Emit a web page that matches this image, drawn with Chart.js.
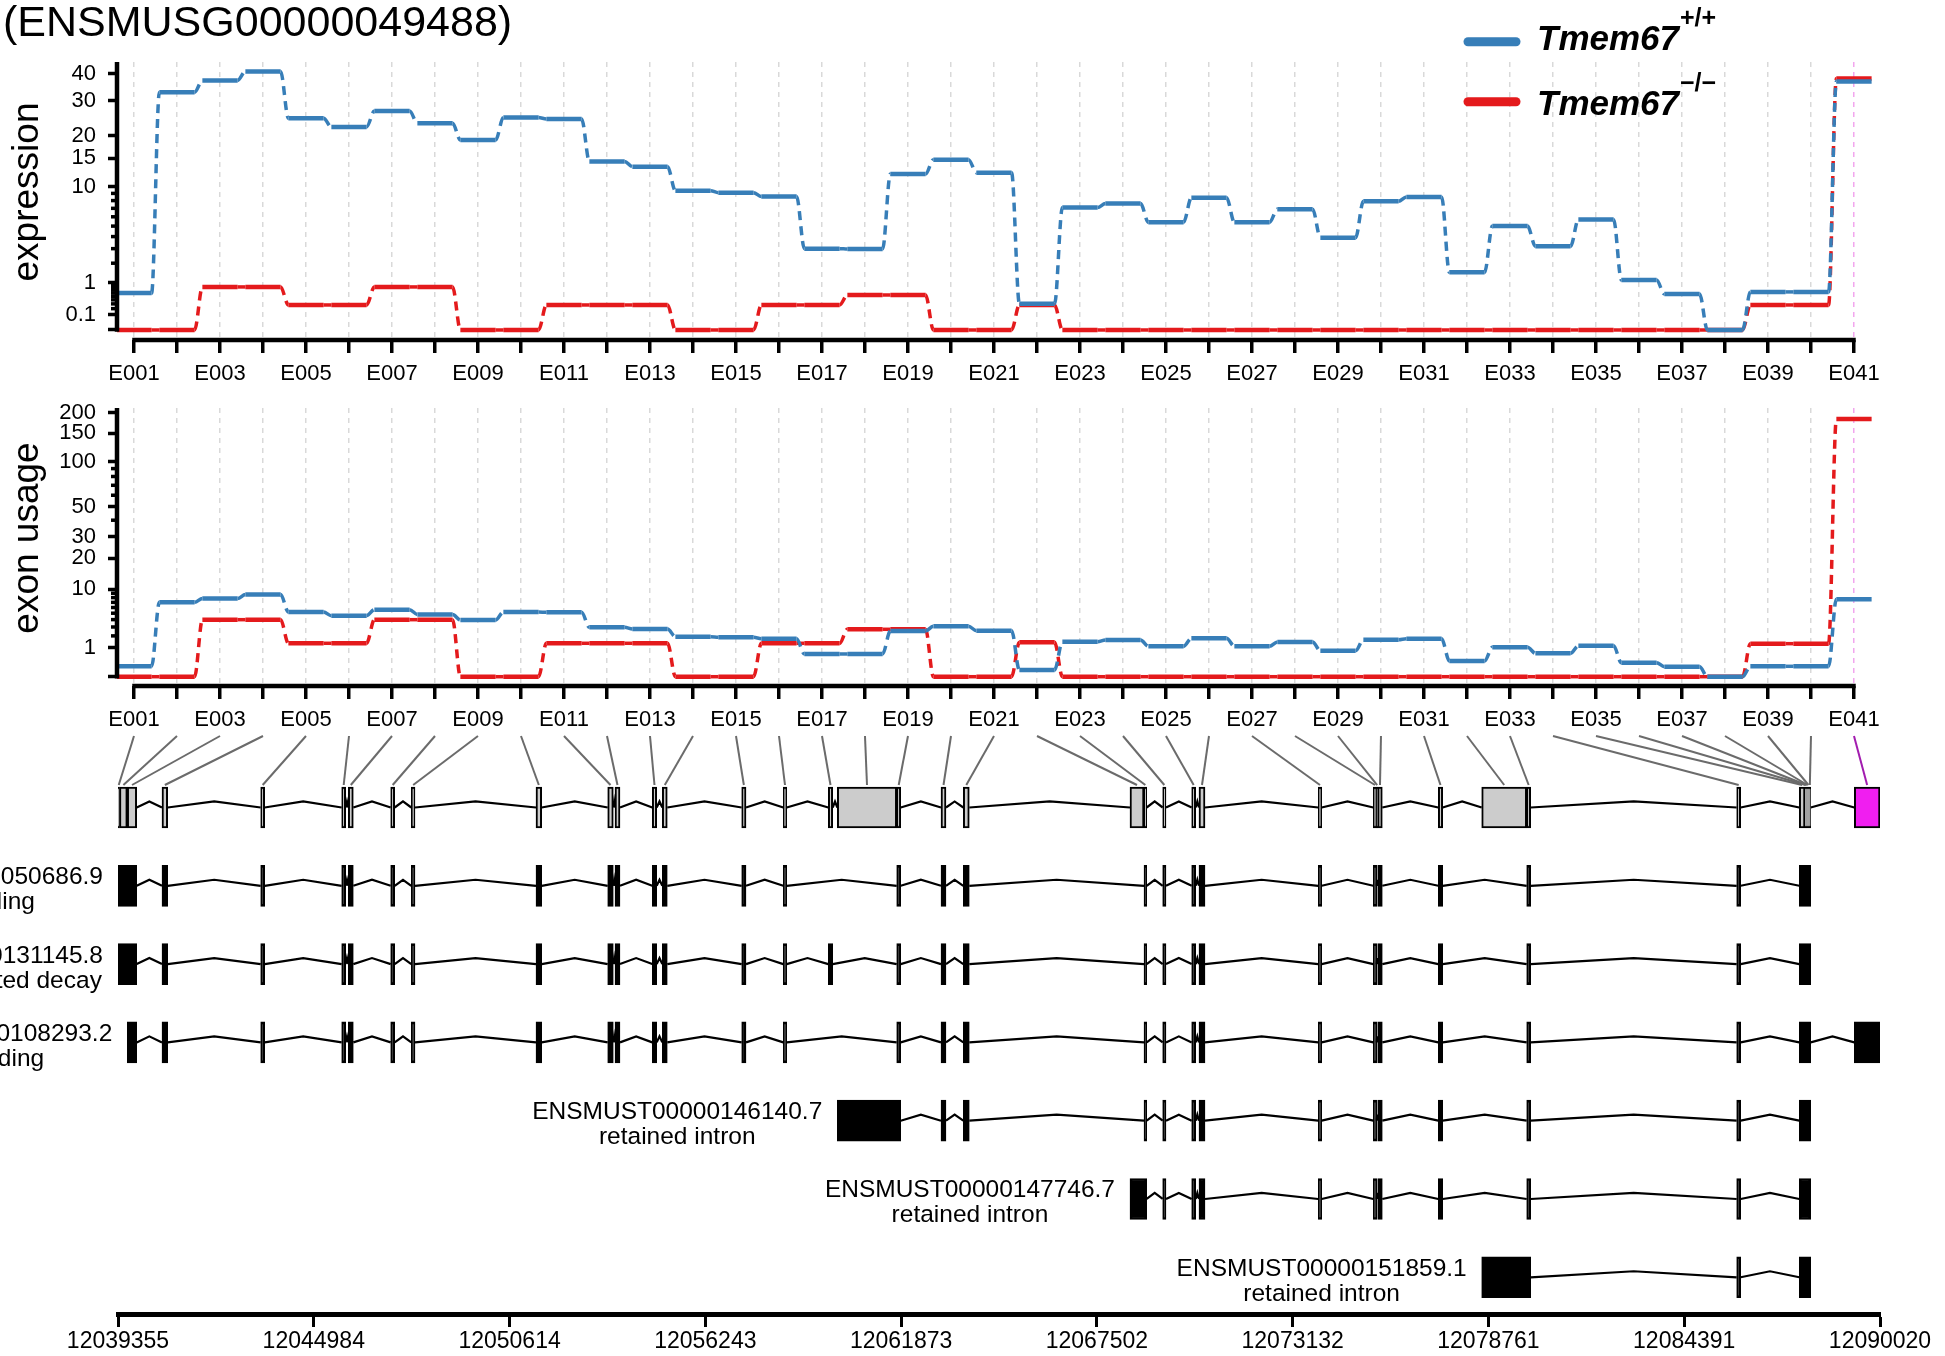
<!DOCTYPE html>
<html lang="en">
<head>
  <meta charset="UTF-8">
  <title>Tmem67 exon usage</title>
  <style>
    body { margin: 0; background: #fff; }
    #wrap { position: relative; width: 1945px; height: 1356px; background: #fff; overflow: hidden; }
    #wrap canvas { position: absolute; left: 0; }
  </style>
</head>
<body>
  <div id="wrap">
    <canvas id="exprChart" width="1945" height="400" style="top:0px"></canvas>
    <canvas id="usageChart" width="1945" height="400" style="top:346px"></canvas>
    <canvas id="modelChart" width="1945" height="636" style="top:720px"></canvas>
  </div>

  <script src="https://cdn.jsdelivr.net/npm/chart.js"></script>
  <script>
    // ---- data ----
    const geneTitle = '(ENSMUSG00000049488)';
    const legendNames = ['Tmem67', 'Tmem67'];
    const legendSups = ['+/+', '\u2212/\u2212'];

    const exonIds = ['E001', 'E002', 'E003', 'E004', 'E005', 'E006', 'E007', 'E008', 'E009', 'E010',
      'E011', 'E012', 'E013', 'E014', 'E015', 'E016', 'E017', 'E018', 'E019', 'E020',
      'E021', 'E022', 'E023', 'E024', 'E025', 'E026', 'E027', 'E028', 'E029', 'E030',
      'E031', 'E032', 'E033', 'E034', 'E035', 'E036', 'E037', 'E038', 'E039', 'E040', 'E041'];
    const highlighted = ['E041'];

    const exprWT = [0.60, 33.0, 37.4, 41.0, 24.7, 22.3, 26.8, 23.3, 19.0, 24.9,
      24.5, 14.4, 13.4, 9.4, 9.1, 8.55, 3.0, 2.97, 12.1, 14.75,
      12.3, 0.30, 7.1, 7.6, 5.4, 8.4, 5.4, 6.9, 3.9, 7.9,
      8.5, 1.48, 5.0, 3.18, 5.7, 1.11, 0.57, 0, 0.64, 0.64, 37.0];
    const exprKO = [0, 0, 0.82, 0.82, 0.275, 0.275, 0.82, 0.82, 0, 0,
      0.275, 0.275, 0.275, 0, 0, 0.275, 0.275, 0.54, 0.54, 0,
      0, 0.275, 0, 0, 0, 0, 0, 0, 0, 0,
      0, 0, 0, 0, 0, 0, 0, 0, 0.275, 0.275, 38.1];

    const usageWT = [0.127, 7.0, 7.8, 8.7, 5.2, 4.6, 5.6, 4.8, 3.95, 5.2,
      5.15, 2.96, 2.75, 1.92, 1.86, 1.73, 0.61, 0.61, 2.52, 3.09,
      2.56, 0.053, 1.46, 1.61, 1.10, 1.77, 1.10, 1.44, 0.80, 1.64,
      1.73, 0.29, 1.03, 0.65, 1.14, 0.23, 0.117, 0, 0.127, 0.127, 7.65];
    const usageKO = [0, 0, 3.99, 3.99, 1.33, 1.33, 3.99, 3.99, 0, 0,
      1.33, 1.33, 1.33, 0, 0, 1.33, 1.33, 2.72, 2.72, 0,
      0, 1.41, 0, 0, 0, 0, 0, 0, 0, 0,
      0, 0, 0, 0, 0, 0, 0, 0, 1.30, 1.30, 183];

    const exprTicks = [0, 0.1, 1, 10, 15, 20, 30, 40];
    const exprMinor = [0.2, 0.3, 0.4, 0.5, 0.6, 0.7, 0.8, 0.9, 2, 3, 4, 5, 6, 7, 8, 9];
    const usageTicks = [0, 1, 10, 20, 30, 50, 100, 150, 200];
    const usageMinor = [2, 3, 4, 5, 6, 7, 8, 9, 40, 60, 70, 80, 90];

    // exon bins, genomic coordinates
    const binStart = [12039355, 12039398, 12039622, 12040620, 12043458, 12045787, 12045977, 12047196, 12047788, 12051374,
      12053436, 12053646, 12054718, 12055006, 12057289, 12058485, 12059779, 12060038, 12061746, 12063020,
      12063661, 12068454, 12068857, 12069394, 12070228, 12070438, 12073868, 12075450, 12075548, 12075576,
      12077319, 12078567, 12079861, 12085899, 12087699, 12087863, 12087892, 12087920, 12087949, 12087978, 12089281];
    const binEnd = [12039398, 12039622, 12039893, 12040784, 12043573, 12045902, 12046121, 12047311, 12047895, 12051538,
      12053597, 12053789, 12054845, 12055149, 12057413, 12058583, 12059906, 12061746, 12061861, 12063163,
      12063833, 12068857, 12068934, 12069489, 12070343, 12070611, 12073966, 12075548, 12075576, 12075709,
      12077446, 12079861, 12079976, 12086014, 12087863, 12087892, 12087920, 12087949, 12087978, 12088027, 12090020];

    const txNames = ['ENSMUST00000050686.9', 'ENSMUST00000131145.8', 'ENSMUST00000108293.2',
      'ENSMUST00000146140.7', 'ENSMUST00000147746.7', 'ENSMUST00000151859.1'];
    const txTypes = ['protein coding', 'nonsense mediated decay', 'protein coding',
      'retained intron', 'retained intron', 'retained intron'];
    // bins (1-based exon numbers) each transcript covers
    const txBins = [
      [1, 2, 3, 4, 5, 6, 7, 8, 9, 10, 11, 12, 13, 14, 15, 16, 19, 20, 21, 23, 24, 25, 26, 27, 28, 30, 31, 33, 34, 35, 36, 37, 38, 39, 40],
      [1, 2, 3, 4, 5, 6, 7, 8, 9, 10, 11, 12, 13, 14, 15, 16, 17, 19, 20, 21, 23, 24, 25, 26, 27, 28, 30, 31, 33, 34, 35, 36, 37, 38, 39, 40],
      [3, 4, 5, 6, 7, 8, 9, 10, 11, 12, 13, 14, 15, 16, 19, 20, 21, 23, 24, 25, 26, 27, 28, 30, 31, 33, 34, 35, 36, 37, 38, 39, 40, 41],
      [18, 19, 20, 21, 23, 24, 25, 26, 27, 28, 30, 31, 33, 34, 35, 36, 37, 38, 39, 40],
      [22, 23, 24, 25, 26, 27, 28, 30, 31, 33, 34, 35, 36, 37, 38, 39, 40],
      [32, 33, 34, 35, 36, 37, 38, 39, 40]
    ];

    const genomicTicks = [12039355, 12044984, 12050614, 12056243, 12061873, 12067502, 12073132, 12078761, 12084391, 12090020];

    // ---- styling ----
    const BLUE = '#377EB8';
    const RED = '#E41A1C';
    const FONT = '"Liberation Sans", Arial, Helvetica, sans-serif';
    const HALF = 0.41;      // half width of an exon step, in exon units
    const PEAK = 0.077;     // intron zig-zag height, in row units

    Chart.defaults.font.family = FONT;
    Chart.defaults.color = '#000';

    // variance-stabilising style transform used by the y axes
    function vst(v) { return Math.asinh(Math.sqrt(v / 28)); }

    function stepPoints(vals) {
      const pts = [];
      vals.forEach((v, i) => {
        pts.push({ x: i + 1 - HALF, y: vst(v) }, { x: i + 1 + HALF, y: vst(v) });
      });
      return pts;
    }

    function series(vals, color) {
      return {
        data: stepPoints(vals),
        borderColor: color,
        borderWidth: 4.5,
        pointRadius: 0,
        cubicInterpolationMode: 'monotone',
        segment: {
          borderDash: c => (c.p0DataIndex % 2 ? [9, 6] : undefined),
          borderWidth: c => (c.p0DataIndex % 2 ? 3.5 : undefined)
        }
      };
    }

    const exonAxes = {
      id: 'exonAxes',
      afterDraw(chart, args, opts) {
        const { ctx, chartArea, scales: { x, y } } = chart;
        ctx.save();
        ctx.strokeStyle = '#000';
        ctx.lineWidth = 4.5;
        ctx.beginPath();
        ctx.moveTo(x.getPixelForValue(1) - 1.75, chartArea.bottom);
        ctx.lineTo(x.getPixelForValue(exonIds.length) + 1.75, chartArea.bottom);
        ctx.moveTo(chartArea.left, chartArea.top);
        ctx.lineTo(chartArea.left, y.getPixelForValue(vst(0)) + 1.75);
        ctx.stroke();
        ctx.lineWidth = 3.5;
        opts.minor.forEach(v => {
          const py = y.getPixelForValue(vst(v));
          ctx.beginPath();
          ctx.moveTo(chartArea.left - 6, py);
          ctx.lineTo(chartArea.left, py);
          ctx.stroke();
        });
        ctx.fillStyle = '#000';
        ctx.font = '37px ' + FONT;
        ctx.textAlign = 'center';
        ctx.textBaseline = 'alphabetic';
        ctx.translate(38, (chartArea.top + chartArea.bottom) / 2 - 9);
        ctx.rotate(-Math.PI / 2);
        ctx.fillText(opts.title, 0, 0);
        ctx.restore();
      }
    };

    const header = {
      id: 'header',
      afterDraw(chart) {
        const ctx = chart.ctx;
        ctx.save();
        ctx.fillStyle = '#000';
        ctx.textAlign = 'left';
        ctx.textBaseline = 'alphabetic';
        ctx.font = '43px ' + FONT;
        ctx.fillText(geneTitle, 3, 36);

        const colors = [BLUE, RED];
        const lineY = [41.7, 101.7];
        const baseY = [50, 115];
        legendNames.forEach((name, i) => {
          ctx.strokeStyle = colors[i];
          ctx.lineWidth = 9;
          ctx.lineCap = 'round';
          ctx.beginPath();
          ctx.moveTo(1468, lineY[i]);
          ctx.lineTo(1516, lineY[i]);
          ctx.stroke();
          ctx.font = 'italic bold 35px ' + FONT;
          ctx.fillText(name, 1537, baseY[i]);
          const w = ctx.measureText(name).width;
          ctx.font = 'bold 25px ' + FONT;
          ctx.fillText(legendSups[i], 1537 + w + 1, baseY[i] - 24);
        });
        ctx.restore();
      }
    };

    function exonChart(id, wt, ko, major, minor, yMin, yMax, title, extra) {
      return new Chart(document.getElementById(id), {
        type: 'line',
        data: { datasets: [series(wt, BLUE), series(ko, RED)] },
        options: {
          responsive: false,
          animation: false,
          devicePixelRatio: 1,
          events: [],
          layout: { padding: { top: 62, left: 0, right: 65, bottom: 0 } },
          plugins: {
            legend: { display: false },
            tooltip: { enabled: false },
            exonAxes: { minor: minor, title: title }
          },
          scales: {
            x: {
              type: 'linear',
              min: 0.6047,
              max: 41.605,
              afterBuildTicks: s => { s.ticks = exonIds.map((e, k) => ({ value: k + 1 })); },
              afterFit: s => { s.height = 60; },
              ticks: {
                autoSkip: false, maxRotation: 0, padding: 8, font: { size: 22 },
                callback: v => (v % 2 === 1 ? exonIds[v - 1] : '')
              },
              grid: {
                color: c => (highlighted.includes(exonIds[c.index]) ? '#f2a6ee' : '#d9d9d9'),
                lineWidth: 1.5,
                tickLength: 13,
                tickWidth: 3.5,
                tickColor: '#000'
              },
              border: { display: false, dash: [5, 5] }
            },
            y: {
              type: 'linear',
              min: yMin,
              max: yMax,
              afterBuildTicks: s => { s.ticks = major.map(v => ({ value: vst(v) })); },
              afterFit: s => { s.width = 117; },
              ticks: {
                autoSkip: false, padding: 12, font: { size: 22 },
                callback: (v, k) => (major[k] ? String(major[k]) : '')
              },
              grid: { drawOnChartArea: false, tickLength: 9, tickWidth: 3.5, tickColor: '#000' },
              border: { display: false }
            }
          }
        },
        plugins: [exonAxes].concat(extra)
      });
    }

    const exprChart = exonChart('exprChart', exprWT, exprKO, exprTicks, exprMinor, -0.0396, 1.0601, 'expression', [header]);
    const usageChart = exonChart('usageChart', usageWT, usageKO, usageTicks, usageMinor, -0.0602, 1.7392, 'exon usage', []);

    // ---- gene model and transcripts ----
    function mergeBins(nums) {
      const ex = [];
      nums.forEach(n => {
        const s = binStart[n - 1], e = binEnd[n - 1];
        const last = ex[ex.length - 1];
        if (last && last[1] === s) last[1] = e; else ex.push([s, e]);
      });
      return ex;
    }
    const txExons = txBins.map(mergeBins);

    const greyBars = [], pinkBars = [], blackBars = [], introns = [];
    function addIntrons(ex, row) {
      for (let k = 0; k < ex.length - 1; k++) {
        const a = ex[k][1], b = ex[k + 1][0];
        if (b <= a) continue;
        introns.push({ x: a, y: row }, { x: (a + b) / 2, y: row - PEAK }, { x: b, y: row }, { x: b, y: null });
      }
    }
    exonIds.forEach((id, k) => {
      const bar = { x: [binStart[k], binEnd[k]], y: 0 };
      (highlighted.includes(id) ? pinkBars : greyBars).push(bar);
    });
    addIntrons(binStart.map((s, k) => [s, binEnd[k]]), 0);
    txExons.forEach((ex, t) => {
      ex.forEach(e => blackBars.push({ x: e, y: t + 1 }));
      addIntrons(ex, t + 1);
    });

    function barSet(data, fill) {
      return {
        type: 'bar', indexAxis: 'y', stack: 'g', data: data,
        backgroundColor: fill, borderColor: '#000', borderWidth: 2,
        borderSkipped: false, barThickness: 41
      };
    }

    const modelDecor = {
      id: 'modelDecor',
      afterDraw(chart) {
        const { ctx, scales: { x, y } } = chart;
        const ux = usageChart.scales.x;
        ctx.save();
        ctx.lineWidth = 2;
        const yTop = 16, yBot = y.getPixelForValue(0) - 22.5;
        exonIds.forEach((id, k) => {
          ctx.strokeStyle = highlighted.includes(id) ? '#a21caf' : '#6b6b6b';
          ctx.beginPath();
          ctx.moveTo(ux.getPixelForValue(k + 1), yTop);
          ctx.lineTo(x.getPixelForValue((binStart[k] + binEnd[k]) / 2), yBot);
          ctx.stroke();
        });
        ctx.fillStyle = '#000';
        ctx.font = '24.5px ' + FONT;
        ctx.textAlign = 'center';
        ctx.textBaseline = 'alphabetic';
        txNames.forEach((name, t) => {
          const right = x.getPixelForValue(txExons[t][0][0]) - 15;
          const cx = right - ctx.measureText(name).width / 2;
          const cy = y.getPixelForValue(t + 1);
          ctx.fillText(name, cx, cy - 1.5);
          ctx.fillText(txTypes[t], cx, cy + 23.5);
        });
        ctx.restore();
      }
    };

    const modelChart = new Chart(document.getElementById('modelChart'), {
      type: 'line',
      data: {
        datasets: [
          barSet(pinkBars, '#f01ef0'),
          barSet(greyBars, '#cccccc'),
          barSet(blackBars, '#000000'),
          { type: 'line', data: introns, borderColor: '#000', borderWidth: 2.2, pointRadius: 0, spanGaps: false, tension: 0 }
        ]
      },
      options: {
        responsive: false,
        animation: false,
        devicePixelRatio: 1,
        events: [],
        layout: { padding: { top: 48, left: 118, right: 65, bottom: 0 } },
        plugins: { legend: { display: false }, tooltip: { enabled: false } },
        scales: {
          x: {
            type: 'linear',
            min: genomicTicks[0],
            max: genomicTicks[genomicTicks.length - 1],
            offset: false,
            stacked: false,
            afterBuildTicks: s => { s.ticks = genomicTicks.map(v => ({ value: v })); },
            afterFit: s => { s.height = 42; },
            ticks: { autoSkip: false, maxRotation: 0, padding: 1, font: { size: 23 }, callback: v => String(v) },
            grid: { drawOnChartArea: false, tickLength: 13, tickWidth: 3, tickColor: '#000' },
            border: { display: true, width: 5, color: '#000' }
          },
          y: { type: 'linear', min: -0.5045, max: 6.469, reverse: true, display: false, offset: false }
        }
      },
      plugins: [modelDecor]
    });
  </script>
</body>
</html>
